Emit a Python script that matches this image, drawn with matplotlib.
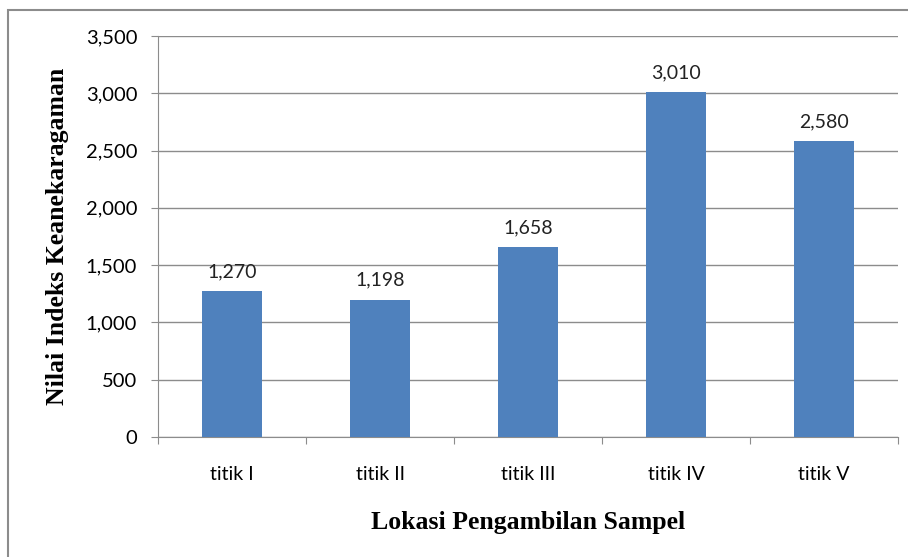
import matplotlib
matplotlib.use('Agg')
import matplotlib.pyplot as plt
from matplotlib.patches import Rectangle
from matplotlib.ticker import FuncFormatter

# data
lokasi = ['titik I', 'titik II', 'titik III', 'titik IV', 'titik V']
indeks = [1270, 1198, 1658, 3010, 2580]
label_nilai = ['1,270', '1,198', '1,658', '3,010', '2,580']

BAR_COLOR = '#4F81BD'
GRID_COLOR = '#8C8C8C'

plt.rcParams['font.family'] = ['Lato', 'DejaVu Sans']

fig = plt.figure(figsize=(9.08, 5.57), dpi=100)
ax = fig.add_axes([158 / 908, 1 - 437 / 557, 740 / 908, 401 / 557])

x = list(range(len(lokasi)))
ax.bar(x, indeks, width=0.4, color=BAR_COLOR, zorder=3)

for xi, v, t in zip(x, indeks, label_nilai):
    ax.annotate(t, (xi, v), xytext=(0, 8), textcoords='offset points',
                ha='center', va='bottom', fontsize=14, color='#222222')

ax.set_xlim(-0.5, len(lokasi) - 0.5)
ax.set_ylim(0, 3500)
ax.set_yticks(range(0, 3501, 500))
ax.yaxis.set_major_formatter(FuncFormatter(lambda v, p: '{:,.0f}'.format(v)))
ax.yaxis.grid(True, color=GRID_COLOR, linewidth=1, zorder=0)

# tick kategori di batas antar batang
ax.set_xticks([i - 0.5 for i in range(len(lokasi) + 1)])
ax.set_xticklabels([])
ax.set_xticks(x, minor=True)
ax.set_xticklabels(lokasi, minor=True)
ax.tick_params(axis='x', which='minor', length=0, pad=21, labelsize=14)
ax.tick_params(axis='x', which='major', length=5, color=GRID_COLOR, direction='out')
ax.tick_params(axis='y', length=5, color=GRID_COLOR, pad=10, labelsize=14.5)

for s in ['top', 'right']:
    ax.spines[s].set_visible(False)
for s in ['left', 'bottom']:
    ax.spines[s].set_color(GRID_COLOR)

ax.set_xlabel('Lokasi Pengambilan Sampel', family='Liberation Serif',
              fontweight='bold', fontsize=18.5, labelpad=20)
ax.set_ylabel('Nilai Indeks Keanekaragaman', family='Liberation Serif',
              fontweight='bold', fontsize=18.5, labelpad=12)

# bingkai luar
fig.patches.append(Rectangle((8 / 908, -0.05), 1.2, 1 - 10 / 557 + 0.05,
                             transform=fig.transFigure, fill=False,
                             edgecolor='#8C8C8C', linewidth=1.5))

fig.savefig('out.png', dpi=100)
